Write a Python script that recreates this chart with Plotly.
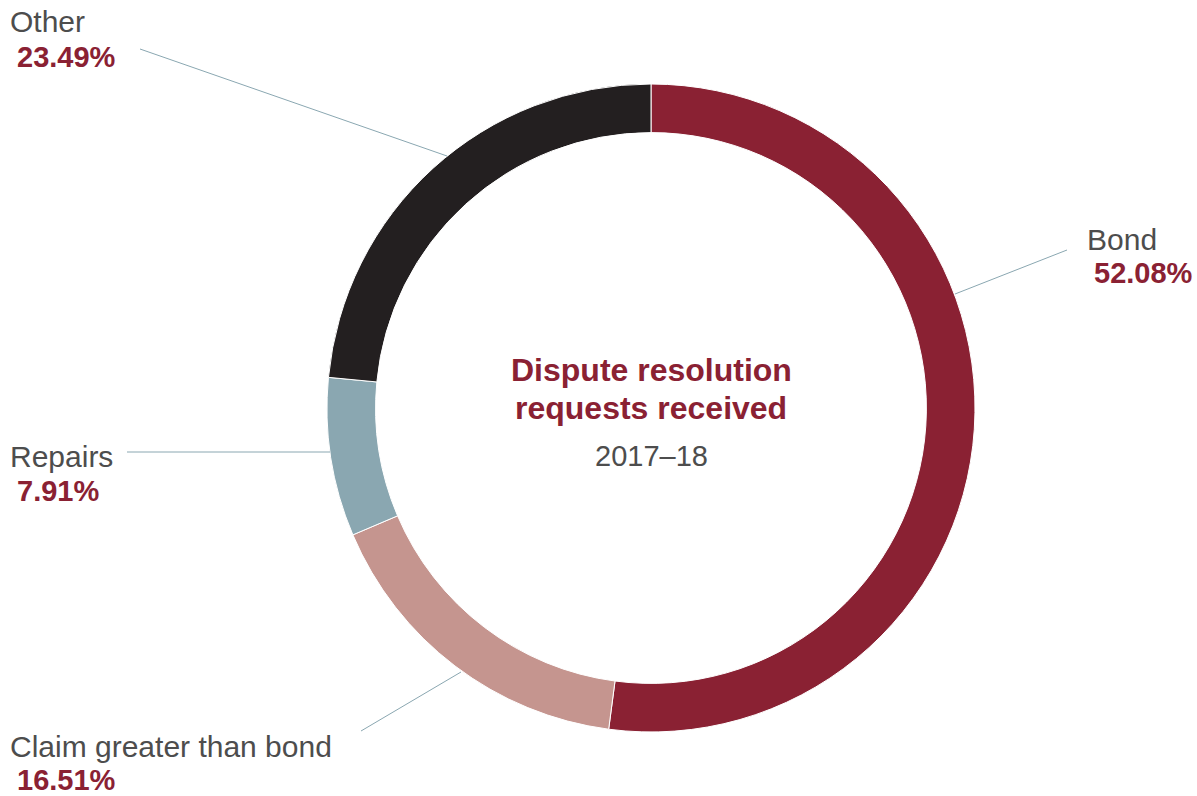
import plotly.graph_objects as go

# Dispute resolution requests received, 2017-18 (share of total, %)
categories = ["Bond", "Claim greater than bond", "Repairs", "Other"]
shares = [52.08, 16.51, 7.91, 23.49]
colors = ["#8A2133", "#C5958F", "#8AA7B1", "#231F20"]

W, H = 1197, 796
CX, CY, R = 651, 408, 324  # ring centre and outer radius in pixels


def px(x):
    return x / W


def py(y):
    return 1 - y / H


fig = go.Figure(
    go.Pie(
        labels=categories,
        values=shares,
        hole=0.85,
        sort=False,
        direction="clockwise",
        rotation=0,
        marker=dict(colors=colors, line=dict(color="#FFFFFF", width=1)),
        textinfo="none",
        hoverinfo="label+percent",
        showlegend=False,
        domain=dict(x=[px(CX - R), px(CX + R)], y=[py(CY + R), py(CY - R)]),
    )
)

LABEL_GREY = "#4D4D4D"
RED = "#8A2133"
LINE = "#8AA7B1"
FONT = "Liberation Sans, Arial, sans-serif"

# label placement: (name x, name y, value x, value y, leader start, leader end)
placements = {
    "Other": (8, 22, 15, 57, (140, 49), (447, 156)),
    "Bond": (1085, 240, 1092, 273, (1067, 250), (955, 294)),
    "Repairs": (8, 456, 15, 491, (127, 452), (330, 452)),
    "Claim greater than bond": (8, 746, 15, 780, (361, 731), (461, 672)),
}

annotations = []
shapes = []
for name, val in zip(categories, shares):
    nx, ny, vx, vy, p0, p1 = placements[name]
    annotations.append(dict(
        x=px(nx), y=py(ny), xref="paper", yref="paper", xanchor="left", yanchor="middle",
        text=name, showarrow=False, font=dict(family=FONT, size=30, color=LABEL_GREY),
    ))
    annotations.append(dict(
        x=px(vx), y=py(vy), xref="paper", yref="paper", xanchor="left", yanchor="middle",
        text=f"<b>{val:.2f}%</b>", showarrow=False, font=dict(family=FONT, size=29, color=RED),
    ))
    shapes.append(dict(
        type="line", xref="paper", yref="paper",
        x0=px(p0[0]), y0=py(p0[1]), x1=px(p1[0]), y1=py(p1[1]),
        line=dict(color=LINE, width=1),
    ))

# centre title
annotations += [
    dict(x=px(CX), y=py(370), xref="paper", yref="paper", xanchor="center", yanchor="middle",
         text="<b>Dispute resolution</b>", showarrow=False,
         font=dict(family=FONT, size=32, color=RED)),
    dict(x=px(CX), y=py(408), xref="paper", yref="paper", xanchor="center", yanchor="middle",
         text="<b>requests received</b>", showarrow=False,
         font=dict(family=FONT, size=32, color=RED)),
    dict(x=px(CX), y=py(456), xref="paper", yref="paper", xanchor="center", yanchor="middle",
         text="2017–18", showarrow=False,
         font=dict(family=FONT, size=29, color=LABEL_GREY)),
]

fig.update_layout(
    width=W, height=H,
    margin=dict(l=0, r=0, t=0, b=0),
    paper_bgcolor="#FFFFFF", plot_bgcolor="#FFFFFF",
    annotations=annotations, shapes=shapes,
)

fig.write_html("out.html")
